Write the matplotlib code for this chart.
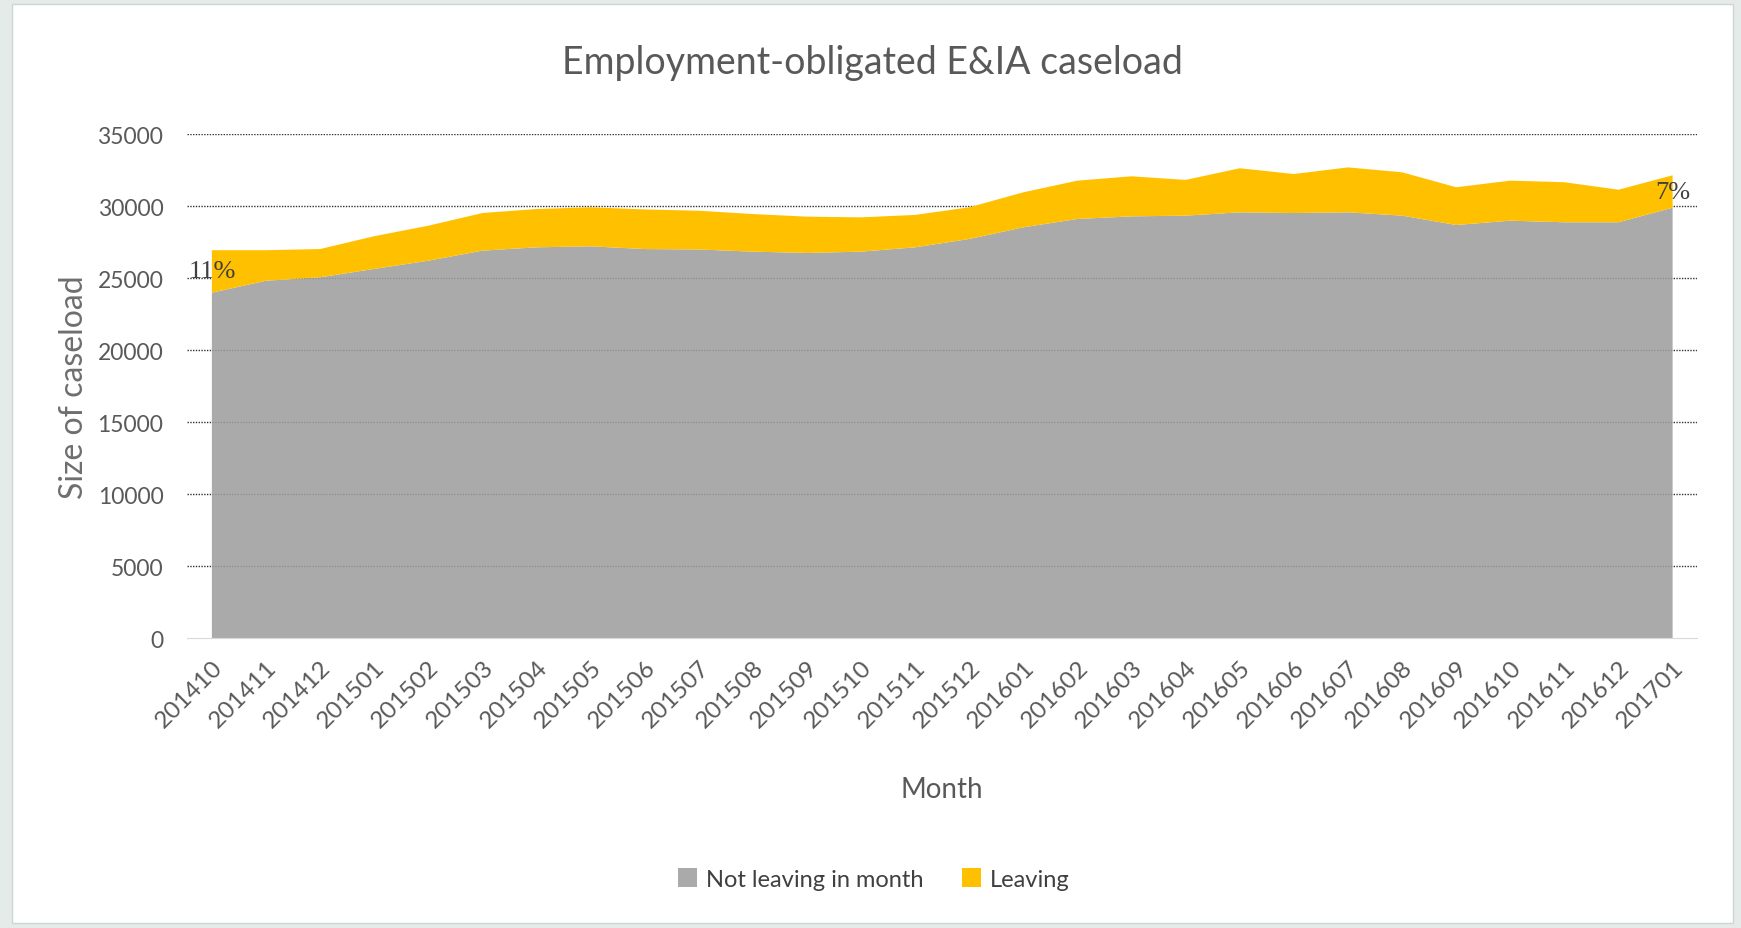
import numpy as np
import matplotlib
matplotlib.use("Agg")
import matplotlib.pyplot as plt
from matplotlib.patches import Rectangle, Patch

months = ["201410", "201411", "201412", "201501", "201502", "201503", "201504",
          "201505", "201506", "201507", "201508", "201509", "201510", "201511",
          "201512", "201601", "201602", "201603", "201604", "201605", "201606",
          "201607", "201608", "201609", "201610", "201611", "201612", "201701"]
not_leaving = [24000, 24830, 25070, 25650, 26220, 26920, 27150, 27220, 27030, 27000,
               26850, 26760, 26850, 27150, 27730, 28540, 29120, 29300, 29350, 29580,
               29530, 29580, 29350, 28700, 29000, 28890, 28890, 29900]
leaving = [2950, 2120, 1960, 2270, 2430, 2610, 2660, 2710, 2750, 2690,
           2610, 2520, 2380, 2250, 2200, 2430, 2660, 2780, 2480, 3060,
           2710, 3120, 3010, 2620, 2780, 2780, 2260, 2250]
y_ticks = list(range(0, 35001, 5000))

GRAY = "#9F9F9F"
GOLD = "#FFC000"
TEXT = "#595959"
plt.rcParams["font.family"] = ["Lato", "DejaVu Sans"]

fig = plt.figure(figsize=(17.41, 9.29), dpi=100, facecolor="#E4EBE8")
# white chart panel inside a thin light border
fig.patches.append(Rectangle((12 / 1741, 5 / 929), 1721 / 1741, 919 / 929,
                             transform=fig.transFigure, facecolor="white",
                             edgecolor="#CCD6D2", lw=1, zorder=-10))

ax = fig.add_axes([0.1074, 0.3118, 0.8673, 0.5426])
ax.set_facecolor("none")

x = np.arange(len(months))
areas = ax.stackplot(x, not_leaving, leaving, colors=[GRAY, GOLD], lw=0, zorder=2)
areas[0].set_alpha(0.88)

# horizontal gridlines (zero line is the axis itself)
for v in y_ticks[1:]:
    ax.axhline(v, color="#333333", lw=1.0, ls=(0, (1, 1)), zorder=1)

# share of the caseload leaving, first and last month
total = np.array(not_leaving) + np.array(leaving)
for i in (0, len(months) - 1):
    pct = round(100 * leaving[i] / total[i])
    ax.text(x[i], not_leaving[i] + leaving[i] / 2, f"{pct}%", ha="center", va="center",
            fontsize=19, color="#404040", family="Liberation Serif", zorder=4)

ax.set_xlim(-0.46, len(months) - 1 + 0.45)
ax.set_ylim(0, 35000)
ax.set_yticks(y_ticks)
ax.set_xticks(x)
ax.set_xticklabels(months, rotation=45, ha="right", rotation_mode="anchor")

for side in ("top", "left", "right"):
    ax.spines[side].set_visible(False)
ax.spines["bottom"].set_color("#D9D9D9")
ax.spines["bottom"].set_zorder(3)
ax.tick_params(axis="both", length=0, labelcolor=TEXT)
ax.tick_params(axis="y", pad=17, labelsize=16.5)
ax.tick_params(axis="x", pad=13, labelsize=17.5)

ax.set_xlabel("Month", fontsize=20, color=TEXT, labelpad=32)
ax.set_ylabel("Size of caseload", fontsize=23, color="#6E6E6E", labelpad=6)
fig.text(0.501, 0.932, "Employment-obligated E&IA caseload", ha="center", va="center",
         fontsize=27, color=TEXT)

handles = [Patch(facecolor=GRAY, alpha=0.88), Patch(facecolor=GOLD)]
fig.legend(handles, ["Not leaving in month", "Leaving"], loc="center",
           bbox_to_anchor=(0.502, 0.053), ncol=2, frameon=False, fontsize=17,
           labelcolor="#404040", handlelength=0.8, handleheight=0.9,
           handletextpad=0.4, columnspacing=1.6)

fig.savefig("out.png", dpi=100, facecolor=fig.get_facecolor())
